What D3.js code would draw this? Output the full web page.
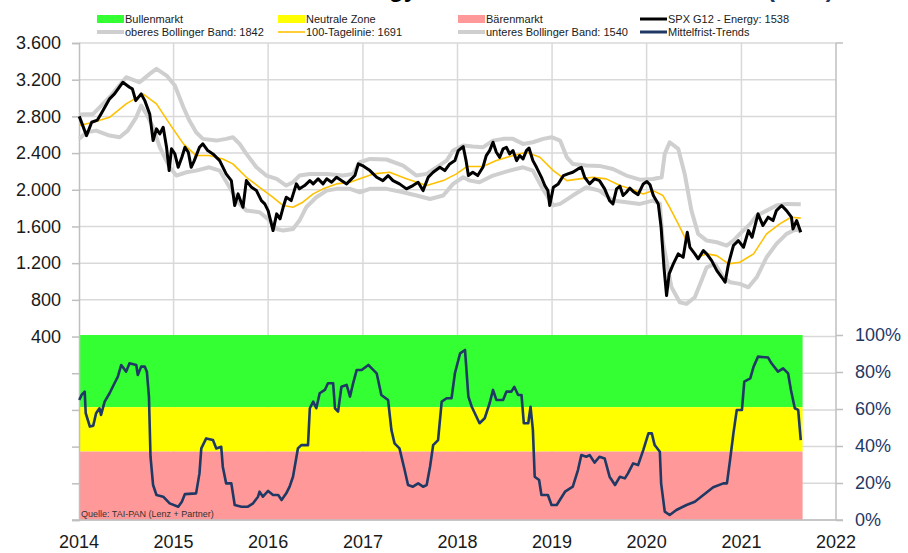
<!DOCTYPE html>
<html>
<head>
<meta charset="utf-8">
<script src="https://cdn.jsdelivr.net/npm/d3@7"></script>
<style>
body { margin: 0; background: #fff; }
svg { display: block; font-family: "Liberation Sans", Arial, sans-serif; }
</style>
</head>
<body>
<svg id="chart" width="908" height="553"></svg>
<script>

// SPX G12 - Energy, weekly close
var price = [
  ["2014-01-02", 2800], ["2014-01-30", 2590], ["2014-02-19", 2736], ["2014-03-13", 2760],
  ["2014-03-27", 2827], ["2014-04-29", 2991], ["2014-05-18", 3045], ["2014-06-19", 3172],
  ["2014-07-15", 3117], ["2014-07-26", 3100], ["2014-08-08", 2972], ["2014-08-29", 3045],
  ["2014-09-12", 2972], ["2014-10-01", 2827], ["2014-10-14", 2536], ["2014-10-27", 2664],
  ["2014-11-09", 2609], ["2014-11-22", 2681], ["2014-12-05", 2463], ["2014-12-15", 2209],
  ["2014-12-24", 2446], ["2015-01-06", 2391], ["2015-01-19", 2245], ["2015-02-02", 2354],
  ["2015-02-14", 2463], ["2015-02-27", 2409], ["2015-03-10", 2245], ["2015-03-22", 2318],
  ["2015-04-11", 2463], ["2015-04-24", 2500], ["2015-05-13", 2427], ["2015-06-02", 2391],
  ["2015-06-28", 2318], ["2015-07-23", 2173], ["2015-08-12", 2100], ["2015-08-25", 1828],
  ["2015-09-07", 1955], ["2015-09-26", 1809], ["2015-10-09", 2100], ["2015-10-29", 2027],
  ["2015-11-17", 1991], ["2015-12-06", 1882], ["2015-12-19", 1846], ["2016-01-01", 1773],
  ["2016-01-20", 1555], ["2016-02-03", 1737], ["2016-02-16", 1683], ["2016-02-28", 1809],
  ["2016-03-11", 1918], ["2016-03-30", 1882], ["2016-04-19", 2064], ["2016-05-01", 2010],
  ["2016-05-21", 2046], ["2016-06-10", 2100], ["2016-06-23", 2064], ["2016-07-12", 2119],
  ["2016-07-31", 2064], ["2016-08-14", 2119], ["2016-09-02", 2082], ["2016-09-21", 2136],
  ["2016-10-10", 2100], ["2016-10-30", 2064], ["2016-11-18", 2119], ["2016-12-01", 2155],
  ["2016-12-14", 2282], ["2016-12-30", 2264], ["2017-01-28", 2209], ["2017-02-23", 2136],
  ["2017-03-19", 2100], ["2017-04-08", 2155], ["2017-04-27", 2100], ["2017-05-22", 2064],
  ["2017-06-18", 2010], ["2017-07-13", 2046], ["2017-08-02", 2082], ["2017-08-21", 1991],
  ["2017-09-10", 2136], ["2017-09-29", 2191], ["2017-10-25", 2245], ["2017-11-13", 2209],
  ["2017-12-02", 2282], ["2017-12-22", 2318], ["2018-01-04", 2427], ["2018-01-23", 2471],
  ["2018-02-03", 2318], ["2018-02-12", 2155], ["2018-03-01", 2191], ["2018-03-20", 2155],
  ["2018-04-09", 2245], ["2018-04-22", 2373], ["2018-05-05", 2427], ["2018-05-18", 2518],
  ["2018-05-31", 2409], ["2018-06-13", 2354], ["2018-06-26", 2446], ["2018-07-09", 2463],
  ["2018-07-21", 2391], ["2018-08-03", 2427], ["2018-08-17", 2318], ["2018-08-29", 2373],
  ["2018-09-11", 2336], ["2018-09-24", 2427], ["2018-10-04", 2455], ["2018-10-19", 2318],
  ["2018-11-02", 2245], ["2018-11-21", 2136], ["2018-12-04", 2046], ["2018-12-16", 1991],
  ["2018-12-23", 1828], ["2019-01-06", 2027], ["2019-01-25", 2064], ["2019-02-14", 2155],
  ["2019-03-03", 2173], ["2019-03-22", 2191], ["2019-04-11", 2227], ["2019-04-24", 2245],
  ["2019-05-07", 2136], ["2019-05-26", 2064], ["2019-06-14", 2119], ["2019-07-03", 2100],
  ["2019-07-23", 2010], ["2019-08-11", 1882], ["2019-08-24", 1846], ["2019-09-07", 2010],
  ["2019-09-20", 2040], ["2019-10-02", 1937], ["2019-10-15", 1973], ["2019-10-28", 2018],
  ["2019-11-10", 1982], ["2019-11-29", 1946], ["2019-12-19", 2064], ["2020-01-02", 2090],
  ["2020-01-14", 2055], ["2020-01-27", 1937], ["2020-02-15", 1846], ["2020-02-26", 1591],
  ["2020-03-08", 1155], ["2020-03-18", 847], ["2020-03-28", 1083], ["2020-04-13", 1192],
  ["2020-05-02", 1301], ["2020-05-21", 1264], ["2020-06-06", 1537], ["2020-06-16", 1373],
  ["2020-07-05", 1301], ["2020-07-18", 1247], ["2020-08-07", 1337], ["2020-08-20", 1301],
  ["2020-09-08", 1228], ["2020-09-28", 1119], ["2020-10-17", 1046], ["2020-10-30", 992],
  ["2020-11-12", 1192], ["2020-12-01", 1392], ["2020-12-20", 1446], ["2021-01-09", 1373],
  ["2021-01-28", 1555], ["2021-02-11", 1482], ["2021-03-06", 1737], ["2021-03-25", 1610],
  ["2021-04-14", 1701], ["2021-05-03", 1664], ["2021-05-16", 1773], ["2021-06-05", 1828],
  ["2021-06-24", 1773], ["2021-07-13", 1701], ["2021-07-19", 1573], ["2021-08-02", 1664],
  ["2021-08-18", 1538]
];

var upperBand = [
  ["2014-01-02", 2820], ["2014-02-25", 2827], ["2014-04-29", 3009], ["2014-07-02", 3227],
  ["2014-08-23", 3172], ["2014-10-01", 3263], ["2014-10-27", 3318], ["2014-12-05", 3245],
  ["2015-01-06", 3136], ["2015-02-08", 2900], ["2015-03-03", 2754], ["2015-03-29", 2627],
  ["2015-04-24", 2555], ["2015-06-15", 2536], ["2015-07-23", 2555], ["2015-08-18", 2573],
  ["2015-09-13", 2500], ["2015-10-09", 2391], ["2015-11-17", 2245], ["2015-12-25", 2155],
  ["2016-02-03", 2119], ["2016-03-11", 2046], ["2016-04-06", 2082], ["2016-05-01", 2155],
  ["2016-06-10", 2173], ["2016-08-14", 2173], ["2016-10-16", 2155], ["2016-11-24", 2173],
  ["2016-12-20", 2300], ["2017-01-28", 2336], ["2017-04-02", 2330], ["2017-06-05", 2264],
  ["2017-07-27", 2155], ["2017-09-04", 2173], ["2017-10-12", 2245], ["2017-11-20", 2318],
  ["2017-12-15", 2427], ["2018-01-23", 2482], ["2018-03-01", 2471], ["2018-04-09", 2463],
  ["2018-05-18", 2536], ["2018-06-26", 2555], ["2018-08-03", 2555], ["2018-09-11", 2500],
  ["2018-10-19", 2518], ["2018-11-28", 2555], ["2018-12-30", 2573], ["2019-02-01", 2536],
  ["2019-02-27", 2354], ["2019-03-22", 2282], ["2019-05-13", 2264], ["2019-07-03", 2260],
  ["2019-08-24", 2227], ["2019-10-15", 2155], ["2019-12-06", 2110], ["2020-01-26", 2118],
  ["2020-02-28", 2136], ["2020-03-11", 2391], ["2020-03-30", 2518], ["2020-05-02", 2446],
  ["2020-05-27", 2173], ["2020-06-22", 1773], ["2020-07-18", 1519], ["2020-08-20", 1446],
  ["2020-09-28", 1428], ["2020-11-05", 1392], ["2020-12-01", 1446], ["2020-12-26", 1519],
  ["2021-02-04", 1628], ["2021-03-01", 1719], ["2021-04-08", 1773], ["2021-05-16", 1828],
  ["2021-06-24", 1846], ["2021-08-18", 1842]
];

var lowerBand = [
  ["2014-01-02", 2555], ["2014-01-30", 2627], ["2014-03-08", 2645], ["2014-04-29", 2591],
  ["2014-06-07", 2573], ["2014-07-08", 2645], ["2014-08-10", 2790], ["2014-08-29", 2918],
  ["2014-09-18", 2827], ["2014-10-14", 2681], ["2014-11-09", 2463], ["2014-12-17", 2245],
  ["2015-01-12", 2155], ["2015-02-20", 2191], ["2015-03-29", 2209], ["2015-05-19", 2245],
  ["2015-06-28", 2209], ["2015-08-05", 2027], ["2015-09-13", 1846], ["2015-10-09", 1773],
  ["2015-11-29", 1755], ["2016-01-08", 1664], ["2016-02-03", 1573], ["2016-02-28", 1555],
  ["2016-04-06", 1573], ["2016-05-01", 1664], ["2016-05-27", 1809], ["2016-07-05", 1918],
  ["2016-08-14", 1991], ["2016-09-21", 2010], ["2016-11-12", 2010], ["2016-12-20", 1973],
  ["2017-01-28", 2010], ["2017-04-02", 2010], ["2017-06-05", 1973], ["2017-07-27", 1937],
  ["2017-09-17", 1900], ["2017-11-07", 1937], ["2017-12-15", 2064], ["2018-01-23", 2136],
  ["2018-02-18", 2100], ["2018-03-27", 2082], ["2018-05-18", 2155], ["2018-07-21", 2209],
  ["2018-09-11", 2245], ["2018-10-19", 2209], ["2018-11-28", 2000], ["2019-01-06", 1830],
  ["2019-02-01", 1846], ["2019-03-22", 1937], ["2019-05-13", 2027], ["2019-07-03", 1991],
  ["2019-08-24", 1882], ["2019-10-15", 1864], ["2019-12-06", 1846], ["2020-01-26", 1882],
  ["2020-02-21", 1850], ["2020-03-03", 1446], ["2020-04-06", 937], ["2020-05-08", 774],
  ["2020-06-03", 756], ["2020-07-05", 828], ["2020-07-31", 1010], ["2020-08-20", 1155],
  ["2020-09-21", 1192], ["2020-10-23", 1046], ["2020-11-18", 992], ["2020-12-26", 974],
  ["2021-01-28", 937], ["2021-03-01", 1046], ["2021-04-08", 1264], ["2021-05-16", 1410],
  ["2021-06-24", 1519], ["2021-08-02", 1573], ["2021-08-18", 1540]
];

var ma100 = [
  ["2014-01-02", 2700], ["2014-02-25", 2736], ["2014-04-29", 2790], ["2014-07-02", 2936],
  ["2014-09-05", 3045], ["2014-10-27", 2936], ["2014-12-17", 2718], ["2015-02-08", 2500],
  ["2015-03-29", 2373], ["2015-05-19", 2373], ["2015-07-10", 2336], ["2015-08-18", 2282],
  ["2015-10-09", 2136], ["2015-11-29", 2027], ["2016-01-20", 1918], ["2016-02-28", 1828],
  ["2016-04-06", 1809], ["2016-05-14", 1864], ["2016-06-23", 1955], ["2016-07-31", 2010],
  ["2016-09-21", 2064], ["2016-11-12", 2082], ["2016-12-20", 2119], ["2017-02-10", 2173],
  ["2017-04-14", 2191], ["2017-06-18", 2119], ["2017-09-04", 2046], ["2017-11-07", 2100],
  ["2017-12-28", 2173], ["2018-02-06", 2253], ["2018-04-09", 2253], ["2018-05-31", 2318],
  ["2018-08-03", 2373], ["2018-09-24", 2409], ["2018-11-15", 2354], ["2019-01-06", 2209],
  ["2019-02-27", 2100], ["2019-04-17", 2119], ["2019-06-08", 2136], ["2019-07-29", 2119],
  ["2019-09-20", 2046], ["2019-11-10", 2000], ["2019-12-19", 1955], ["2020-01-26", 1991],
  ["2020-03-04", 1937], ["2020-03-30", 1809], ["2020-05-02", 1628], ["2020-06-03", 1446],
  ["2020-07-12", 1264], ["2020-08-20", 1301], ["2020-09-28", 1282], ["2020-11-12", 1192],
  ["2020-12-26", 1210], ["2021-02-17", 1301], ["2021-04-08", 1519], ["2021-05-29", 1628],
  ["2021-07-11", 1701], ["2021-08-18", 1691]
];

// Mittelfrist-Trends, percent (right axis)
var trend = [
  ["2014-01-02", 64.9], ["2014-01-11", 67.6], ["2014-01-23", 69.4], ["2014-01-27", 57.7],
  ["2014-02-12", 50.5], ["2014-02-25", 51.0], ["2014-03-08", 57.7], ["2014-03-21", 60.4],
  ["2014-03-27", 56.8], ["2014-04-10", 64.0], ["2014-04-29", 68.5], ["2014-05-18", 73.9],
  ["2014-05-31", 77.5], ["2014-06-13", 83.8], ["2014-07-02", 80.2], ["2014-07-15", 84.7],
  ["2014-08-10", 83.8], ["2014-08-16", 78.4], ["2014-08-29", 82.9], ["2014-09-12", 82.9],
  ["2014-09-20", 80.2], ["2014-09-28", 66.7], ["2014-10-04", 34.2], ["2014-10-14", 18.9],
  ["2014-10-27", 13.5], ["2014-11-22", 12.6], ["2014-12-17", 9.0], ["2015-01-19", 7.2],
  ["2015-02-02", 9.9], ["2015-02-14", 14.0], ["2015-03-29", 14.4], ["2015-04-11", 25.2],
  ["2015-04-18", 38.7], ["2015-05-07", 44.1], ["2015-06-02", 43.2], ["2015-06-15", 38.7],
  ["2015-07-04", 39.6], ["2015-07-10", 28.8], ["2015-07-23", 19.8], ["2015-08-12", 19.8],
  ["2015-08-25", 8.1], ["2015-09-20", 7.2], ["2015-10-15", 7.2], ["2015-11-04", 9.0],
  ["2015-11-23", 12.6], ["2015-11-29", 15.3], ["2015-12-12", 12.6], ["2016-01-01", 15.7],
  ["2016-01-20", 13.5], ["2016-02-09", 13.5], ["2016-02-22", 10.8], ["2016-03-11", 14.4],
  ["2016-03-24", 18.0], ["2016-04-06", 23.4], ["2016-04-25", 38.7], ["2016-05-08", 40.5],
  ["2016-06-03", 40.5], ["2016-06-10", 60.4], ["2016-06-23", 64.0], ["2016-07-05", 60.4],
  ["2016-07-18", 68.5], ["2016-08-07", 70.3], ["2016-08-19", 73.9], ["2016-09-08", 73.9],
  ["2016-09-15", 60.4], ["2016-09-27", 58.6], ["2016-10-10", 72.0], ["2016-10-30", 73.0],
  ["2016-11-12", 66.7], ["2016-11-24", 73.9], ["2016-12-08", 81.1], ["2016-12-27", 81.1],
  ["2017-01-22", 83.8], ["2017-02-04", 82.0], ["2017-02-23", 79.3], ["2017-03-13", 67.6],
  ["2017-04-08", 64.9], ["2017-04-21", 48.6], ["2017-05-03", 41.4], ["2017-05-22", 38.7],
  ["2017-06-11", 27.0], ["2017-06-24", 18.9], ["2017-07-13", 18.0], ["2017-08-02", 19.8],
  ["2017-08-21", 18.0], ["2017-09-04", 18.9], ["2017-09-17", 28.8], ["2017-09-29", 40.5],
  ["2017-10-18", 43.2], ["2017-11-01", 64.0], ["2017-11-20", 65.8], ["2017-12-09", 65.8],
  ["2017-12-22", 79.3], ["2018-01-11", 90.1], ["2018-01-30", 91.9], ["2018-02-12", 66.7],
  ["2018-02-25", 61.2], ["2018-03-27", 52.3], ["2018-04-16", 55.0], ["2018-05-05", 63.1],
  ["2018-05-18", 70.3], ["2018-05-31", 64.9], ["2018-06-26", 64.9], ["2018-07-09", 69.4],
  ["2018-07-28", 69.4], ["2018-08-08", 72.0], ["2018-08-23", 67.6], ["2018-09-05", 67.6],
  ["2018-09-14", 52.3], ["2018-10-01", 52.3], ["2018-10-10", 61.2], ["2018-10-19", 48.6],
  ["2018-10-26", 23.4], ["2018-11-12", 21.6], ["2018-11-21", 13.5], ["2018-12-16", 13.5],
  ["2018-12-30", 8.1], ["2019-01-19", 8.1], ["2019-02-20", 15.3], ["2019-03-22", 18.0],
  ["2019-04-11", 27.0], ["2019-04-24", 35.1], ["2019-05-13", 34.2], ["2019-05-26", 35.1],
  ["2019-06-14", 31.0], ["2019-07-03", 34.2], ["2019-07-23", 33.3], ["2019-08-11", 23.4],
  ["2019-09-01", 18.9], ["2019-09-20", 23.4], ["2019-10-09", 22.5], ["2019-10-21", 25.2],
  ["2019-11-10", 30.6], ["2019-11-29", 29.7], ["2019-12-19", 37.8], ["2020-01-08", 46.8],
  ["2020-01-21", 46.8], ["2020-02-01", 40.5], ["2020-02-21", 36.9], ["2020-02-26", 19.8],
  ["2020-03-11", 4.5], ["2020-03-30", 2.7], ["2020-04-25", 5.4], ["2020-06-03", 8.1],
  ["2020-07-05", 9.9], ["2020-08-07", 13.5], ["2020-09-14", 17.7], ["2020-10-23", 19.8],
  ["2020-11-06", 19.8], ["2020-11-18", 32.4], ["2020-12-01", 46.8], ["2020-12-14", 59.5],
  ["2021-01-03", 59.5], ["2021-01-12", 74.8], ["2021-02-04", 76.6], ["2021-02-17", 82.9],
  ["2021-03-06", 88.3], ["2021-04-14", 87.8], ["2021-04-27", 84.7], ["2021-05-22", 80.2],
  ["2021-06-11", 82.0], ["2021-06-30", 79.3], ["2021-07-11", 70.3], ["2021-07-26", 60.4],
  ["2021-08-08", 59.5], ["2021-08-18", 43.2]
];

// market zones on the percent scale
var zoneNames = ["Bullenmarkt", "Neutrale Zone", "Bärenmarkt"];
var zoneFrom = [61, 37, 0];
var zoneTo = [100, 61, 37];
var zoneStart = "2014-01-01";
var zoneEnd = "2021-08-25";

var leftTicks = [3600, 3200, 2800, 2400, 2000, 1600, 1200, 800, 400, 0, -400, -800, -1200, -1600];
var rightTicks = [0, 20, 40, 60, 80, 100];
var yearTicks = [2014, 2015, 2016, 2017, 2018, 2019, 2020, 2021, 2022];

var COLORS = {
    zones: ["#33ff33", "#ffff00", "#ff9999"],
    price: "#000000",
    band: "#cfcfcf",
    ma: "#ffc000",
    trend: "#1f3864",
    grid: "#d9d9d9",
    axis: "#bfbfbf"
};

var parseDate = d3.timeParse("%Y-%m-%d");
var de = d3.formatLocale({ decimal: ",", thousands: ".", grouping: [3], currency: ["", " €"] });
var fmt = de.format(",d");

var svg = d3.select("#chart");
var plotLeft = 79, plotRight = 836, plotTop = 43, plotBottom = 520;

var x = d3.scaleTime()
    .domain([new Date(2014, 0, 1), new Date(2022, 0, 1)])
    .range([plotLeft, plotRight]);
var yL = d3.scaleLinear().domain([-1600, 3600]).range([plotBottom, plotTop]);
var yR = d3.scaleLinear().domain([0, 100]).range([plotBottom, 335]);

// grid lines
var grid = svg.append("g");
grid.selectAll(".hgrid")
    .data(leftTicks)
    .enter().append("line")
        .attr("x1", plotLeft).attr("x2", plotRight)
        .attr("y1", function(d) { return yL(d); })
        .attr("y2", function(d) { return yL(d); })
        .style("stroke", COLORS.grid)
        .style("stroke-width", 1.5);
grid.selectAll(".vgrid")
    .data(yearTicks.slice(1, yearTicks.length - 1))
    .enter().append("line")
        .attr("x1", function(d) { return x(new Date(d, 0, 1)); })
        .attr("x2", function(d) { return x(new Date(d, 0, 1)); })
        .attr("y1", plotTop).attr("y2", plotBottom)
        .style("stroke", COLORS.grid)
        .style("stroke-width", 1.5);

// zones
svg.append("g").selectAll("rect")
    .data(zoneNames)
    .enter().append("rect")
        .attr("x", x(parseDate(zoneStart)))
        .attr("width", x(parseDate(zoneEnd)) - x(parseDate(zoneStart)))
        .attr("y", function(d, i) { return yR(zoneTo[i]); })
        .attr("height", function(d, i) { return yR(zoneFrom[i]) - yR(zoneTo[i]); })
        .style("fill", function(d, i) { return COLORS.zones[i]; });

// axes
var axisL = d3.axisLeft(yL).tickValues(leftTicks).tickSize(7).tickPadding(11)
    .tickFormat(function(d) { return d >= 400 ? fmt(d) : ""; });
var gL = svg.append("g").attr("transform", "translate(" + plotLeft + ",0)").call(axisL);
gL.selectAll("text").style("font-size", "18px").style("fill", "#1a1a1a");

var axisR = d3.axisRight(yR).tickValues(rightTicks).tickSize(7).tickPadding(12)
    .tickFormat(function(d) { return d + "%"; });
var gR = svg.append("g").attr("transform", "translate(" + plotRight + ",0)").call(axisR);
gR.selectAll("text").style("font-size", "18px").style("fill", COLORS.trend);

[gL, gR].forEach(function(g) {
    g.select(".domain").style("stroke", COLORS.axis).style("stroke-width", 1.5);
    g.selectAll(".tick line").style("stroke", COLORS.axis).style("stroke-width", 1.5);
});
gR.select(".domain").attr("d", "M0," + plotTop + "V" + plotBottom);
svg.append("line")
    .attr("x1", plotLeft - 7).attr("x2", plotRight + 7)
    .attr("y1", plotBottom).attr("y2", plotBottom)
    .style("stroke", COLORS.axis).style("stroke-width", 1.5);
svg.append("line")
    .attr("x1", plotRight).attr("x2", plotRight + 7)
    .attr("y1", plotTop).attr("y2", plotTop)
    .style("stroke", COLORS.axis).style("stroke-width", 1.5);

svg.append("g").selectAll("text")
    .data(yearTicks)
    .enter().append("text")
        .attr("x", function(d) { return x(new Date(d, 0, 1)); })
        .attr("y", 548)
        .attr("text-anchor", "middle")
        .style("font-size", "18px")
        .style("fill", "#1a1a1a")
        .text(function(d) { return d; });

// lines
function lineFor(scale) {
    return d3.line()
        .x(function(d) { return x(parseDate(d[0])); })
        .y(function(d) { return scale(d[1]); });
}

function drawLine(data, scale, color, width) {
    svg.append("path")
        .datum(data)
        .attr("d", lineFor(scale))
        .style("fill", "none")
        .style("stroke", color)
        .style("stroke-width", width)
        .style("stroke-linejoin", "round");
}

drawLine(upperBand, yL, COLORS.band, 4);
drawLine(lowerBand, yL, COLORS.band, 4);
drawLine(ma100, yL, COLORS.ma, 1.6);
drawLine(price, yL, COLORS.price, 3);
drawLine(trend, yR, COLORS.trend, 2.6);

svg.append("text")
    .attr("x", 81).attr("y", 517)
    .style("font-size", "9px")
    .style("fill", "#333")
    .text("Quelle: TAI-PAN  (Lenz + Partner)");

// title, cut off at the top edge
svg.append("text")
    .attr("x", 417).attr("y", -3)
    .attr("text-anchor", "end")
    .style("font-size", "24px").style("font-weight", "bold")
    .text("SPX G12 - Energy");
svg.append("text")
    .attr("x", 767).attr("y", -3)
    .style("font-size", "24px").style("font-weight", "bold")
    .style("fill", COLORS.trend)
    .text("(USD)");

// legend
function last(arr) { return arr[arr.length - 1][1]; }

var legendItems = [
    { label: zoneNames[0], kind: "rect", color: COLORS.zones[0] },
    { label: zoneNames[1], kind: "rect", color: COLORS.zones[1] },
    { label: zoneNames[2], kind: "rect", color: COLORS.zones[2] },
    { label: "SPX G12 - Energy: " + last(price), kind: "line", color: COLORS.price, w: 3 },
    { label: "oberes Bollinger Band: " + last(upperBand), kind: "line", color: COLORS.band, w: 4 },
    { label: "100-Tagelinie: " + last(ma100), kind: "line", color: COLORS.ma, w: 1.6 },
    { label: "unteres Bollinger Band: " + last(lowerBand), kind: "line", color: COLORS.band, w: 4 },
    { label: "Mittelfrist-Trends", kind: "line", color: COLORS.trend, w: 3 }
];
var legendX = [97, 278, 458, 640];

var legends = svg.append("g").selectAll("g")
    .data(legendItems)
    .enter().append("g")
        .attr("transform", function(d, i) {
            return "translate(" + legendX[i % 4] + "," + (i < 4 ? 19 : 32) + ")";
        });

legends.filter(function(d) { return d.kind === "rect"; })
    .append("rect")
        .attr("x", 0).attr("y", -4).attr("width", 27).attr("height", 8)
        .style("fill", function(d) { return d.color; });
legends.filter(function(d) { return d.kind === "line"; })
    .append("line")
        .attr("x1", 0).attr("x2", 27).attr("y1", 0).attr("y2", 0)
        .style("stroke", function(d) { return d.color; })
        .style("stroke-width", function(d) { return d.w; });
legends.append("text")
    .attr("x", 28).attr("dy", "0.35em")
    .style("font-size", "11px")
    .style("fill", "#1a1a1a")
    .text(function(d) { return d.label; });

</script>
</body>
</html>
